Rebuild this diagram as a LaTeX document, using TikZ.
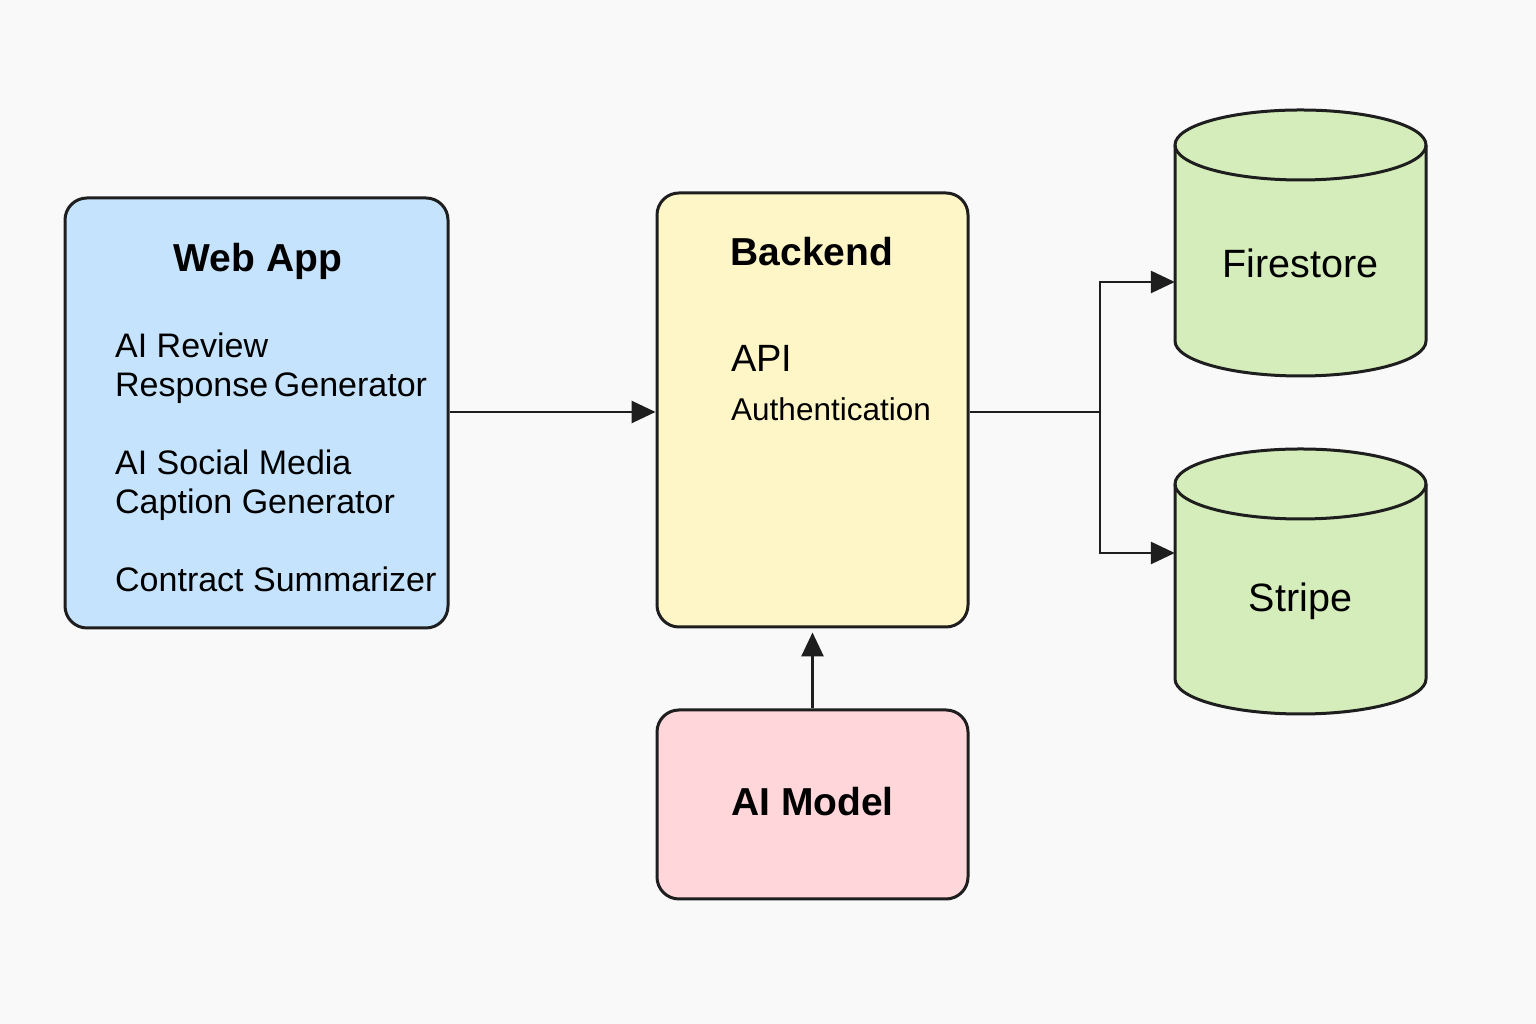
\documentclass[tikz,border=0pt]{standalone}
\usepackage{fontspec}
\setmainfont{Liberation Sans}
\usetikzlibrary{arrows.meta}
\definecolor{bg}{HTML}{F9F9F9}
\definecolor{ink}{HTML}{1E1E1E}
\definecolor{webfill}{HTML}{C5E3FD}
\definecolor{backfill}{HTML}{FFF6C8}
\definecolor{aifill}{HTML}{FFD6DA}
\definecolor{dbfill}{HTML}{D5EDBA}
\tikzset{
  box/.style={draw=ink, line width=3pt, rounded corners=22pt, inner sep=0pt},
  ttl/.style={font=\fontsize{39}{46}\selectfont\bfseries, text=black, inner sep=0pt, anchor=base},
  body/.style={font=\fontsize{34}{40}\selectfont, text=black, inner sep=0pt, anchor=base west},
  dbtext/.style={font=\fontsize{39.5}{46}\selectfont, text=black, inner sep=0pt, anchor=base},
  conn/.style={draw=ink, line width=2.8pt},
  arr/.style={conn, -{Triangle[length=24pt,width=22pt]}},
  cylbody/.style={fill=dbfill, draw=ink, line width=3pt, line join=round},
  cylline/.style={draw=ink, line width=3pt},
  hit/.style={inner sep=0pt}
}
\begin{document}
\begin{tikzpicture}[x=1pt,y=1pt]
\fill[bg] (0,0) rectangle (1536,1024);
\useasboundingbox (0,0) rectangle (1536,1024);

% Web App
\node[box, fill=webfill, minimum width=383pt, minimum height=430pt] (web) at (256.5,611) {};
\node[ttl] (webtitle) at (258,752) {Web App};
\node[body] (w1) at (115,666) {AI Review};
\node[body] (w2) at (115,627.5) {Response\,Generator};
\node[body] (w3) at (115,549) {AI Social Media};
\node[body] (w4) at (115,510.5) {Caption Generator};
\node[body] (w5) at (115,432) {Contract Summarizer};

% Backend
\node[box, fill=backfill, minimum width=311pt, minimum height=434pt] (backend) at (812.5,614) {};
\node[ttl] (backtitle) at (812,758) {Backend};
\node[body, font=\fontsize{38}{44}\selectfont] (api) at (731,652) {API};
\node[body, font=\fontsize{31.5}{38}\selectfont] (auth) at (731,603) {Authentication};

% AI Model
\node[box, fill=aifill, minimum width=311pt, minimum height=189pt] (ai) at (812.5,219.5) {};
\node[ttl] (aititle) at (812.5,208) {AI Model};

% Firestore cylinder
\filldraw[cylbody] (1175,879) -- (1175,683)
  arc[start angle=180, end angle=360, x radius=125.5, y radius=35]
  -- (1426,879)
  arc[start angle=0, end angle=180, x radius=125.5, y radius=35] -- cycle;
\draw[cylline] (1175,879) arc[start angle=180, end angle=360, x radius=125.5, y radius=35];
\node[hit, minimum width=251pt, minimum height=196pt] (fs) at (1300.5,781) {};
\node[dbtext] (fstext) at (1300.5,746) {Firestore};

% Stripe cylinder
\filldraw[cylbody] (1175,540) -- (1175,345)
  arc[start angle=180, end angle=360, x radius=125.5, y radius=35]
  -- (1426,540)
  arc[start angle=0, end angle=180, x radius=125.5, y radius=35] -- cycle;
\draw[cylline] (1175,540) arc[start angle=180, end angle=360, x radius=125.5, y radius=35];
\node[hit, minimum width=251pt, minimum height=195pt] (st) at (1300.5,442.5) {};
\node[dbtext] (sttext) at (1300.5,412) {Stripe};

% Connectors
\coordinate (j) at (1100,612);
\draw[arr] (web.east |- j) -- (backend.west |- j);
\draw[conn] (backend.east |- j) -- (j);
\draw[arr] (j) |- ([yshift=-39pt]fs.west);
\draw[arr] (j) |- ([yshift=28.5pt]st.west);
\draw[arr, shorten >=4pt] (ai.north) -- (backend.south);
\end{tikzpicture}
\end{document}
